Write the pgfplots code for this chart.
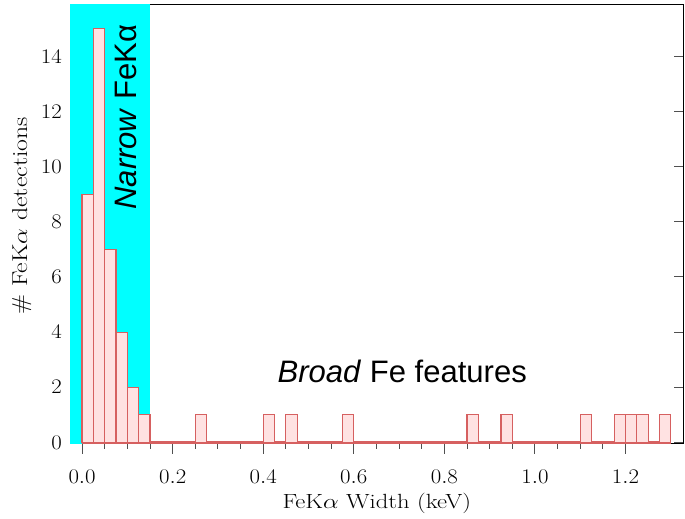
\documentclass[border={12.25pt 4.1pt 1pt 4pt}]{standalone}
\usepackage{graphicx}
\usepackage{pgfplots}
\pgfplotsset{compat=1.18}
\usepackage{fontspec}
\newfontfamily\annfont{Liberation Sans}
\definecolor{barfill}{RGB}{255,226,226}
\definecolor{baredge}{RGB}{214,96,96}
\definecolor{tickgray}{RGB}{80,80,80}
\definecolor{narrowcyan}{RGB}{0,255,255}
\begin{document}
\begin{tikzpicture}
\begin{axis}[
  scale only axis, width=613pt, height=439pt,
  xmin=-0.0265, xmax=1.328, ymin=-0.05, ymax=15.88,
  xtick={0,0.2,0.4,0.6,0.8,1.0,1.2}, minor x tick num=3,
  ytick={0,2,...,14},
  xticklabel={\scalebox{1.1}[1]{\pgfmathprintnumber[fixed,fixed zerofill,precision=1]{\tick}}},
  yticklabel={\scalebox{1.1}[1]{\pgfmathprintnumber{\tick}}},
  xticklabel style={inner sep=0pt, anchor=north, yshift=-16pt},
  xtick pos=lower, ytick pos=both,
  xtick align=outside, ytick align=inside,
  major tick length=10pt, minor tick length=5pt,
  tick style={tickgray, line width=1pt},
  axis line style={black, line width=1pt},
  tick label style={font=\fontsize{22}{24}\selectfont},
  yticklabel style={inner sep=0pt, anchor=east, xshift=-8pt},
  xlabel={\scalebox{1.2}[1]{FeK$\alpha$ Width (keV)}},
  ylabel={\scalebox{1.2}[1]{\# FeK$\alpha$ detections}},
  xlabel style={font=\fontsize{20.5}{23}\selectfont, at={(axis description cs:0.5,-0.1367)}, anchor=center, inner sep=0pt},
  ylabel style={font=\fontsize{21.5}{24}\selectfont, at={(axis description cs:-0.0787,0.519)}, anchor=center, inner sep=0pt},
]
\addplot[fill=narrowcyan, draw=none] coordinates {(-0.1,-1) (0.15,-1) (0.15,17) (-0.1,17)} -- cycle;
\addplot[baredge, line width=2.5pt] coordinates {(0,0) (1.3,0)};
\addplot[ybar interval, fill=barfill, draw=baredge, line width=1.2pt] coordinates {
(0.000,9) (0.025,15) (0.050,7) (0.075,4) (0.100,2) (0.125,1) (0.150,0) (0.175,0)
(0.200,0) (0.225,0) (0.250,1) (0.275,0) (0.300,0) (0.325,0) (0.350,0) (0.375,0)
(0.400,1) (0.425,0) (0.450,1) (0.475,0) (0.500,0) (0.525,0) (0.550,0) (0.575,1)
(0.600,0) (0.625,0) (0.650,0) (0.675,0) (0.700,0) (0.725,0) (0.750,0) (0.775,0)
(0.800,0) (0.825,0) (0.850,1) (0.875,0) (0.900,0) (0.925,1) (0.950,0) (0.975,0)
(1.000,0) (1.025,0) (1.050,0) (1.075,0) (1.100,1) (1.125,0) (1.150,0) (1.175,1)
(1.200,1) (1.225,1) (1.250,0) (1.275,1) (1.300,0)
};
\node[rotate=90, font=\annfont\fontsize{31}{34}\selectfont] at (axis cs:0.097,11.8) {\textit{Narrow} FeKα};
\node[font=\annfont\fontsize{31}{34}\selectfont] at (axis cs:0.707,2.57) {\textit{Broad} Fe features};
\end{axis}
\end{tikzpicture}
\end{document}
